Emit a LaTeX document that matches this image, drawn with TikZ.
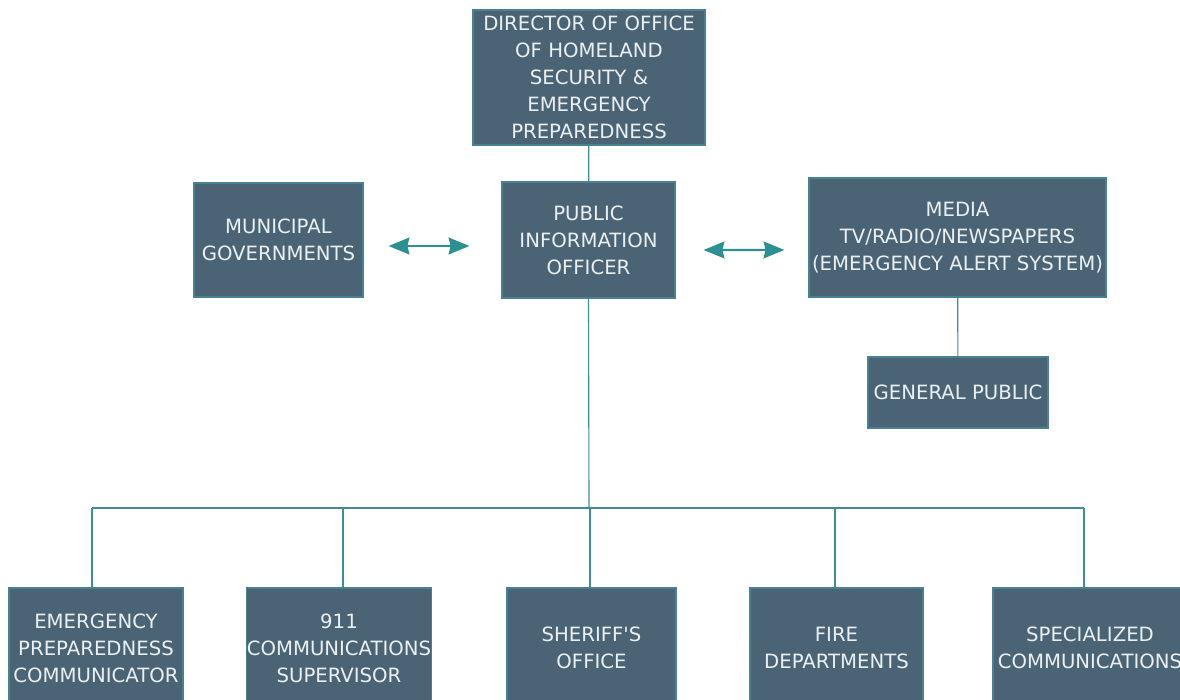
\documentclass[tikz,border=0pt]{standalone}
\usepackage{fontspec}
\setmainfont{DejaVu Sans}
\usepackage{xcolor}
\usepackage{tikz}
\usetikzlibrary{positioning}
\usetikzlibrary{arrows.meta}
\definecolor{boxfill}{RGB}{74,100,118}
\definecolor{boxedge}{RGB}{72,130,144}
\definecolor{boxtext}{RGB}{234,240,242}
\definecolor{linkcol}{RGB}{62,140,150}
\definecolor{arrowcol}{RGB}{44,144,144}
\tikzstyle{unit}=[rectangle,fill=boxfill,draw=boxedge,line width=0.8pt,text=boxtext,align=center,inner sep=0pt,font=\fontsize{14}{19.2}\selectfont]
\tikzstyle{link} = [draw,linkcol,line width=0.8pt]
\tikzstyle{twoway} = [draw,arrowcol,line width=1.5pt,{Stealth[length=0.52cm,width=0.42cm,inset=0.05cm]}-{Stealth[length=0.52cm,width=0.42cm,inset=0.05cm]}]

\begin{document}
\begin{tikzpicture}[x=0.025cm,y=-0.025cm]

   \clip (0,0) rectangle (1180,699);

  % upper part of the chart
  \foreach \x/\y/\w/\h/\name/\label in {589/77.5/5.8/3.375/dir/{DIRECTOR OF OFFICE\\OF HOMELAND\\SECURITY \&\\EMERGENCY\\PREPAREDNESS},
                                       588.5/240/4.325/2.9/pio/{PUBLIC\\INFORMATION\\OFFICER},
                                       278.5/240/4.225/2.85/muni/{MUNICIPAL\\GOVERNMENTS},
                                       957.5/237.5/7.425/2.975/media/{MEDIA\\TV/RADIO/NEWSPAPERS\\(EMERGENCY ALERT SYSTEM)},
                                       958/392.5/4.5/1.775/public/{GENERAL PUBLIC}}
          \node[unit, minimum width=\w cm, minimum height=\h cm] (\name) at (\x,\y) {\label};

  % bottom row, cut by the lower edge
  \foreach \x/\w/\name/\label in {96/4.35/epc/{EMERGENCY\\PREPAREDNESS\\COMMUNICATOR},
                                 339/4.3/sup/{911\\COMMUNICATIONS\\SUPERVISOR},
                                 591.5/4.225/sheriff/{SHERIFF\textquotesingle S\\OFFICE},
                                 836.5/4.325/fire/{FIRE\\DEPARTMENTS},
                                 1090/4.85/spec/{SPECIALIZED\\COMMUNICATIONS}}
          \node[unit, minimum width=\w cm, minimum height=3cm] (\name) at (\x,648) {\label};

  \coordinate (bus) at (589,508);
  \coordinate (busL) at (92,508);
  \coordinate (busR) at (1084,508);

  \path[link] (dir) -- (pio);
  \path[link] (media) -- (public);
  \path[link] (pio.south) -- (bus);
  \path[link] (busL) -- (busR);

  \foreach \dest/\dx in {epc/92, sup/343, sheriff/590, fire/835, spec/1084}
         \path[link] (\dx,508) -- (\dx,0 |- \dest.north);

  % two-way links beside the officer
  \path[twoway, shorten <=0.625cm, shorten >=0.8cm] ([yshift=-0.15cm]muni.east) -- ([yshift=-0.15cm]pio.west);
  \path[twoway, shorten <=0.7cm, shorten >=0.6cm] ([yshift=-0.25cm]pio.east) -- ([yshift=-0.31cm]media.west);

\end{tikzpicture}
\end{document}
